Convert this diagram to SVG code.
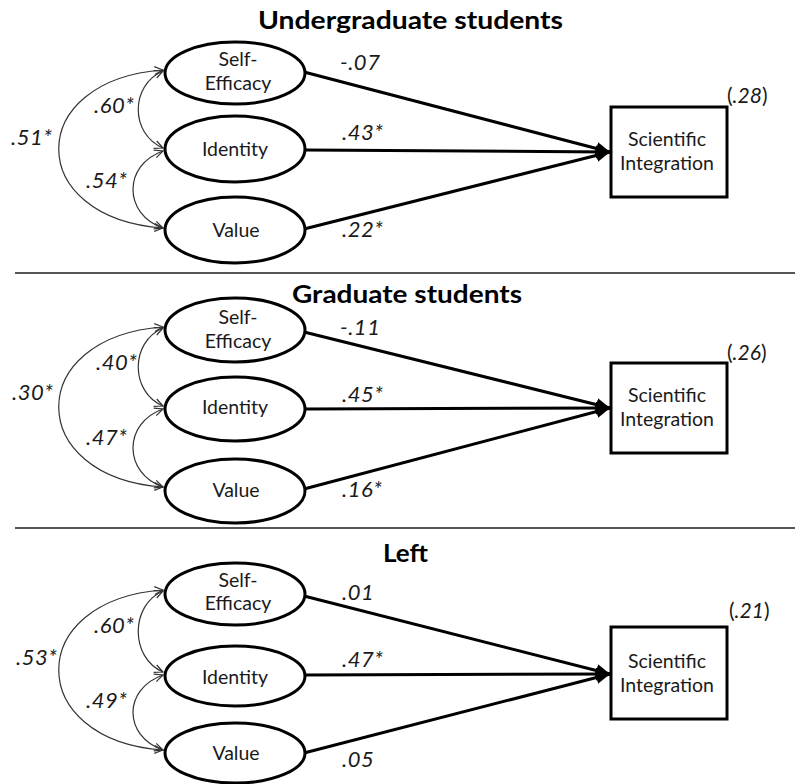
<svg xmlns="http://www.w3.org/2000/svg" width="795" height="784" viewBox="0 0 795 784">
<defs>
<style>
text{font-family:Lato,"Open Sans","DejaVu Sans",sans-serif;fill:#1a1a1a}
.title{font-size:24px;font-weight:bold;text-anchor:middle;fill:#000}
.lbl{font-size:19.5px;text-anchor:middle}
.num{font-size:22px;font-style:italic;letter-spacing:0.5px}
.r2{font-size:21px}
.lat{fill:#fff;stroke:#000;stroke-width:3}
.obs{fill:#fff;stroke:#000;stroke-width:3}
.path{stroke:#000;stroke-width:3;fill:none;marker-end:url(#ah)}
.cov{stroke:#333;stroke-width:1.2;fill:none;marker-start:url(#oh);marker-end:url(#oh)}
.sep{stroke:#555;stroke-width:2}
</style>
<marker id="ah" markerUnits="userSpaceOnUse" markerWidth="16" markerHeight="14" refX="14" refY="6.5" orient="auto"><path d="M0,0 L14,6.5 L0,13 z" fill="#000"/></marker>
<marker id="oh" markerUnits="userSpaceOnUse" markerWidth="12" markerHeight="10" refX="8.5" refY="4" orient="auto-start-reverse" overflow="visible"><path d="M0,0 L8.5,4 L0,8" fill="none" stroke="#333" stroke-width="1.2"/></marker>
</defs>
<rect width="795" height="784" fill="#fff"/>

<g id="separators">
<line class="sep" x1="15" y1="273" x2="795" y2="273"/>
<line class="sep" x1="15" y1="528" x2="795" y2="528"/>
</g>

<g id="titles">
<text class="title" x="410.5" y="29" textLength="305" lengthAdjust="spacingAndGlyphs">Undergraduate students</text>
<text class="title" x="407" y="303" textLength="230" lengthAdjust="spacingAndGlyphs">Graduate students</text>
<text class="title" x="405.5" y="562" textLength="45" lengthAdjust="spacingAndGlyphs">Left</text>
</g>

<g id="connectors">
<path class="path" d="M304,72 L610,152"/>
<path class="path" d="M305,150 L610,152"/>
<path class="path" d="M304,229 L610,152"/>
<path class="cov" d="M163,70 C24,80 24,218 163,228"/>
<path class="cov" d="M163,71 C130,85 130,134 163,148"/>
<path class="cov" d="M163,151 C123,165 123,214 163,228"/>
<path class="path" d="M304,332 L610,408"/>
<path class="path" d="M305,409 L610,408"/>
<path class="path" d="M304,489 L610,408"/>
<path class="cov" d="M163,327 C24,337 24,477 163,487"/>
<path class="cov" d="M163,328 C130,342 130,392 163,406"/>
<path class="cov" d="M163,409 C123,423 123,473 163,487"/>
<path class="path" d="M304,596 L610,674"/>
<path class="path" d="M305,675 L610,674"/>
<path class="path" d="M304,753 L610,674"/>
<path class="cov" d="M163,590 C24,600 24,740 163,750"/>
<path class="cov" d="M163,591 C130,605 130,658 163,672"/>
<path class="cov" d="M163,675 C123,689 123,736 163,750"/>
</g>

<g id="p1-selfefficacy"><ellipse class="lat" cx="235" cy="73" rx="70" ry="31"/><text class="lbl" x="238" y="66">Self-</text><text class="lbl" x="238" y="90">Efficacy</text></g>
<g id="p1-identity"><ellipse class="lat" cx="235" cy="149" rx="70" ry="33"/><text class="lbl" x="235" y="156">Identity</text></g>
<g id="p1-value"><ellipse class="lat" cx="235" cy="230" rx="70" ry="33"/><text class="lbl" x="236" y="237">Value</text></g>
<g id="p1-integration"><rect class="obs" x="611" y="107" width="116" height="90"/><text class="lbl" x="667" y="146">Scientific</text><text class="lbl" x="667" y="170">Integration</text></g>

<g id="p2-selfefficacy"><ellipse class="lat" cx="235" cy="330" rx="70" ry="32"/><text class="lbl" x="238" y="324">Self-</text><text class="lbl" x="238" y="348">Efficacy</text></g>
<g id="p2-identity"><ellipse class="lat" cx="235" cy="409" rx="70" ry="32"/><text class="lbl" x="235" y="414">Identity</text></g>
<g id="p2-value"><ellipse class="lat" cx="235" cy="491" rx="70" ry="32"/><text class="lbl" x="236" y="497">Value</text></g>
<g id="p2-integration"><rect class="obs" x="611" y="363" width="116" height="90"/><text class="lbl" x="667" y="402">Scientific</text><text class="lbl" x="667" y="426">Integration</text></g>

<g id="p3-selfefficacy"><ellipse class="lat" cx="235" cy="594" rx="70" ry="31"/><text class="lbl" x="238" y="587">Self-</text><text class="lbl" x="238" y="610">Efficacy</text></g>
<g id="p3-identity"><ellipse class="lat" cx="235" cy="676" rx="70" ry="30"/><text class="lbl" x="235" y="684">Identity</text></g>
<g id="p3-value"><ellipse class="lat" cx="235" cy="753" rx="70" ry="30"/><text class="lbl" x="236" y="760">Value</text></g>
<g id="p3-integration"><rect class="obs" x="611" y="627" width="116" height="92"/><text class="lbl" x="667" y="668">Scientific</text><text class="lbl" x="667" y="692">Integration</text></g>

<g id="labels">
<text class="r2" x="727" y="103">(<tspan font-style="italic">.28</tspan>)</text>
<text class="r2" x="727" y="360">(<tspan font-style="italic">.26</tspan>)</text>
<text class="r2" x="729" y="618">(<tspan font-style="italic">.21</tspan>)</text>

<text class="num" x="340" y="70">-.07</text>
<text class="num" x="342" y="140">.43*</text>
<text class="num" x="342" y="237">.22*</text>
<text class="num" x="11" y="145">.51*</text>
<text class="num" x="94" y="113">.60*</text>
<text class="num" x="86" y="188">.54*</text>

<text class="num" x="340" y="335">-.11</text>
<text class="num" x="342" y="402">.45*</text>
<text class="num" x="342" y="497">.16*</text>
<text class="num" x="12" y="400">.30*</text>
<text class="num" x="96" y="370">.40*</text>
<text class="num" x="86" y="445">.47*</text>

<text class="num" x="342" y="600">.01</text>
<text class="num" x="342" y="667">.47*</text>
<text class="num" x="342" y="767">.05</text>
<text class="num" x="16" y="665">.53*</text>
<text class="num" x="94" y="633">.60*</text>
<text class="num" x="86" y="708">.49*</text>
</g>
</svg>
